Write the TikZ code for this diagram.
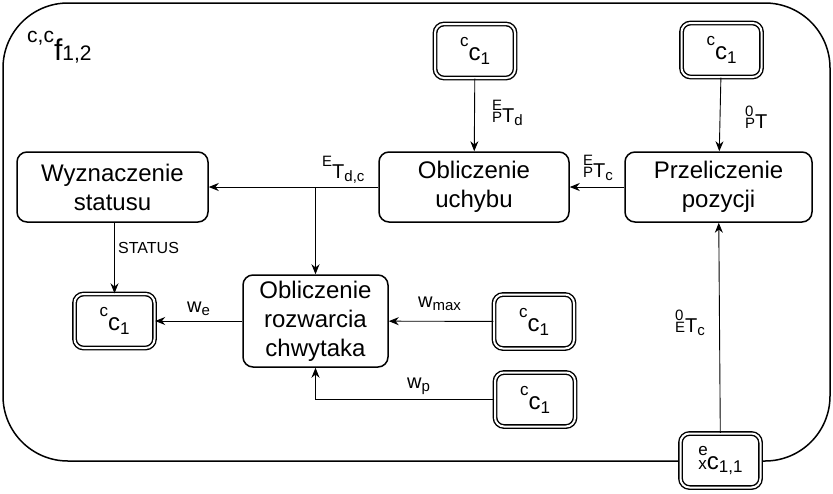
\documentclass[tikz,border=0pt]{standalone}
\usepackage{fontspec}
\setmainfont{Liberation Sans}
\usetikzlibrary{arrows.meta}

\newcommand{\scrsz}{15}
\newcommand{\scr}{\fontsize{\scrsz}{\scrsz}\selectfont}
\newcommand{\rsub}[1]{\raisebox{-0.15em}{\scr #1}}
\newcommand{\rsup}[1]{\raisebox{0.6em}{\scr #1}}
\newcommand{\lpre}[2]{\rlap{\raisebox{0.58em}{\scr #1}}{\scr #2}}
\newcommand{\boxfont}{\fontsize{24}{29}\selectfont\renewcommand{\scrsz}{17}}
\newcommand{\lblfont}{\fontsize{20}{24}\selectfont\renewcommand{\scrsz}{15}}

\begin{document}
\begin{tikzpicture}[x=1pt,y=-1pt,
    proc/.style={draw, line width=1.5pt, rounded corners=10pt, align=center, fill=white,
        inner sep=0pt, font=\fontsize{24}{29}\selectfont},
    dbox/.style={draw, double, line width=1.4pt, double distance=2pt, rounded corners=9pt,
        fill=white, minimum width=80pt, minimum height=54pt, inner sep=0pt, font=\boxfont},
    lbl/.style={inner sep=0pt, anchor=base west, font=\lblfont},
    conn/.style={line width=0.9pt, -{Stealth[length=10pt,width=8pt]}}]
        \useasboundingbox (0,0) rectangle (833,493);
        % ramka funkcji
        \draw[line width=1.5pt, rounded corners=65pt] (3,3) rectangle (830,461);
        \node[inner sep=0pt, anchor=base west, font={\fontsize{30}{32}\selectfont\renewcommand{\scrsz}{21}}]
            (fname) at (27,60) {\rsup{c,c}f\raisebox{0em}{\scr 1,2}};

        \node[proc, minimum width=191pt, minimum height=70pt] (wyzn) at (112.5,187) {Wyznaczenie\\statusu};
        \node[proc, minimum width=190pt, minimum height=70pt] (uchyb) at (474,187) {Obliczenie\\uchybu};
        \node[proc, minimum width=187pt, minimum height=70pt] (przel) at (718.5,187) {Przeliczenie\\pozycji};
        \node[proc, minimum width=145pt, minimum height=92pt] (rozw) at (315.5,321) {Obliczenie\\rozwarcia\\chwytaka};

        \node[dbox] (cT) at (475,51) {\rsup{c}c\rsub{1}};
        \node[dbox] (cP) at (721.5,50) {\rsup{c}c\rsub{1}};
        \node[dbox] (cS) at (114.5,321) {\rsup{c}c\rsub{1}};
        \node[dbox] (cW) at (534,321.5) {\rsup{c}c\rsub{1}};
        \node[dbox] (cWp) at (535,399.5) {\rsup{c}c\rsub{1}};
        \node[dbox] (ex) at (720.5,460.5) {\lpre{e}{x}c\rsub{1,1}};

        \coordinate (br) at (rozw.north |- uchyb.west);

        \draw[conn] (cT) -- (uchyb);
        \draw[conn] (cP) -- (przel);
        \draw[conn] (przel) -- (uchyb);
        \draw[conn] (uchyb) -- (wyzn);
        \draw[conn] (br) -- (rozw);
        \draw[conn] (wyzn.south -| cS.north) -- (cS);
        \draw[conn] (rozw) -- (cS);
        \draw[conn] (cW) -- (rozw);
        \draw[conn] (cWp) -| (rozw);
        \draw[conn] (ex) -- (przel);

        \node[lbl] (lTd) at (492,122) {\lpre{E}{P}T\rsub{d}};
        \node[lbl] (lT0) at (745,128) {\lpre{0}{P}T};
        \node[lbl] (lTc) at (583,177) {\lpre{E}{P}T\rsub{c}};
        \node[lbl] (lTdc) at (322,178) {\rsup{E}T\rsub{d,c}};
        \node[lbl, font=\fontsize{16}{18}\selectfont] (lst) at (118,253) {STATUS};
        \node[lbl] (lwe) at (187,312) {w\rsub{e}};
        \node[lbl] (lwm) at (418,307) {w\rsub{max}};
        \node[lbl] (lwp) at (407,388) {w\rsub{p}};
        \node[lbl] (lTe) at (675,332) {\lpre{0}{E}T\rsub{c}};
    \end{tikzpicture}
\end{document}
